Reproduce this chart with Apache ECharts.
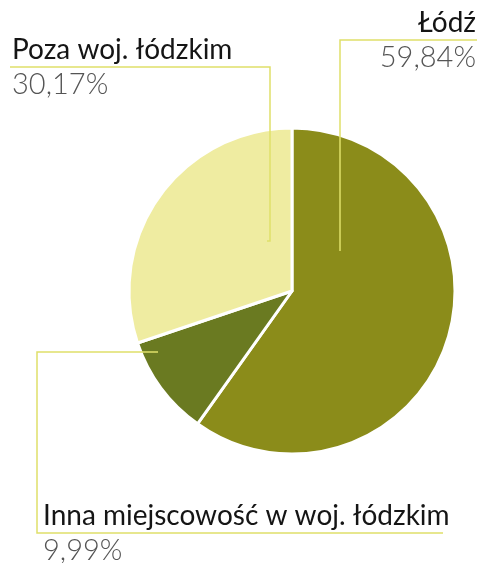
<!DOCTYPE html>
<html>
<head>
<meta charset="utf-8">
<script src="https://cdn.jsdelivr.net/npm/echarts@6/dist/echarts.min.js"></script>
<style>
html, body { margin: 0; padding: 0; background: #fff; }
#main { width: 479px; height: 563px; }
</style>
</head>
<body>
<div id="main"></div>
<script>
var names = ['Łódź', 'Inna miejscowość w woj. łódzkim', 'Poza woj. łódzkim'];
var values = [59.84, 9.99, 30.17];
var colors = ['#8b8c1a', '#6a7a21', '#efeca1'];

// where each label sits and how its guide line runs (px)
var labelPos = [
	{ x: 476, y: 40, align: 'right', line: [[340, 251], [340, 40], [477, 40]] },
	{ x: 43, y: 533, align: 'left', line: [[158, 352], [37, 352], [37, 533], [443, 533]] },
	{ x: 12, y: 67, align: 'left', line: [[267, 241], [270, 241], [270, 67], [10, 67]] }
];
var nameLh = 35;

var data = [];
var labelData = [];
for (var i = 0; i < names.length; i++) {
	data.push({ name: names[i], value: values[i], itemStyle: { color: colors[i] } });
	labelData.push({ name: names[i], value: values[i] });
}

var chart = echarts.init(document.getElementById('main'));
var option = {
	animation: false,
	series: [{
		type: 'pie',
		z: 2,
		center: [292, 291],
		radius: [0, 163],
		startAngle: 90,
		clockwise: true,
		silent: true,
		itemStyle: { borderColor: '#fff', borderWidth: 3 },
		label: { show: false },
		labelLine: { show: false },
		data: data
	}, {
		// same slices again, invisible, only to carry labels above the pie
		type: 'pie',
		z: 3,
		center: [292, 291],
		radius: [0, 163],
		startAngle: 90,
		clockwise: true,
		silent: true,
		itemStyle: { color: 'rgba(0,0,0,0)', borderWidth: 0 },
		label: {
			show: true,
			position: 'outer',
			overflow: 'none',
			formatter: function(p) {
				return '{n|' + p.name + '}\n{p|' + p.value.toFixed(2).replace('.', ',') + '%}';
			},
			rich: {
				n: { fontFamily: 'Lato', fontSize: 28, color: '#151515', lineHeight: nameLh },
				p: { fontFamily: 'Lato', fontSize: 29, fontWeight: 300, color: '#555', lineHeight: 35 }
			}
		},
		labelLine: {
			show: true,
			length: 10,
			length2: 10,
			lineStyle: { color: '#dfe06a', width: 1.5 }
		},
		labelLayout: function(p) {
			var l = labelPos[p.dataIndex];
			return {
				x: l.x,
				y: l.y - nameLh,
				align: l.align,
				verticalAlign: 'top',
				labelLinePoints: l.line
			};
		},
		data: labelData
	}]
};
chart.setOption(option);
</script>
</body>
</html>
